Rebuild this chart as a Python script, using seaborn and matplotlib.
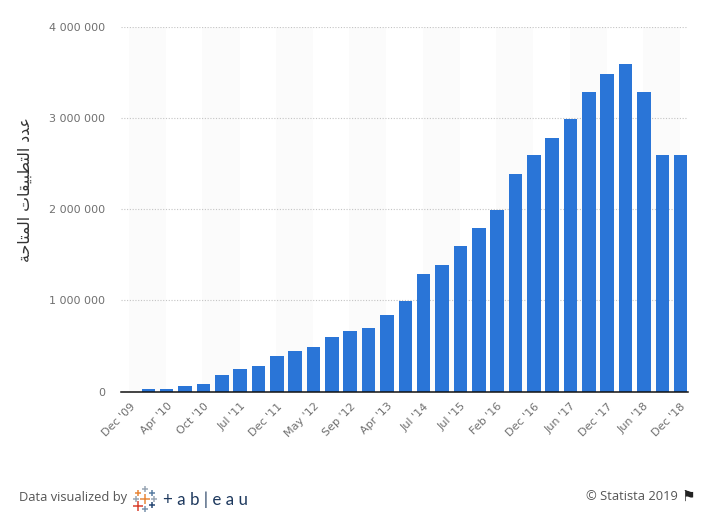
import matplotlib
matplotlib.use('Agg')
import matplotlib.pyplot as plt
import pandas as pd
import seaborn as sns

periods = ["Dec '09", "Mar '10", "Apr '10", "Jul '10", "Oct '10", "Jan '11", "Jul '11", "Oct '11",
           "Dec '11", "Mar '12", "May '12", "Jul '12", "Sep '12", "Jan '13", "Apr '13", "Sep '13",
           "Jul '14", "Jan '15", "Jul '15", "Oct '15", "Feb '16", "Jun '16", "Dec '16", "Mar '17",
           "Jun '17", "Sep '17", "Dec '17", "Mar '18", "Jun '18", "Sep '18", "Dec '18"]
apps = [0, 25000, 25000, 55000, 85000, 185000, 245000, 285000,
        385000, 440000, 485000, 595000, 660000, 695000, 835000, 990000,
        1285000, 1385000, 1595000, 1795000, 1985000, 2385000, 2590000, 2785000,
        2985000, 3280000, 3480000, 3590000, 3280000, 2590000, 2590000]
y_ticks = [0, 1000000, 2000000, 3000000, 4000000]
y_tick_labels = ['0', '1 000 000', '2 000 000', '3 000 000', '4 000 000']

# matplotlib does not shape arabic, so presentation forms in visual order
y_label = ('\ufecb\ufeaa\ufea9 '
           '\ufe8d\ufedf\ufe98\ufec4\ufe92\ufef4\ufed8\ufe8e\ufe95 '
           '\ufe8d\ufedf\ufee4\ufe98\ufe8e\ufea3\ufe94')[::-1]

W, H = 705, 514
left, right, top, bottom = 121, 688, 26.7, 391.5

sns.set_theme(style='white')
plt.rcParams['font.family'] = ['DejaVu Sans']

df = pd.DataFrame({'period': periods, 'apps': apps})

fig = plt.figure(figsize=(W / 100, H / 100), dpi=100)
ax = fig.add_axes([left / W, 1 - bottom / H, (right - left) / W, (bottom - top) / H])

sns.barplot(data=df, x='period', y='apps', color='#2a75d7', saturation=1, width=0.74, gap=0, ax=ax, zorder=3)
for bar in ax.patches:
    bar.set_linewidth(0)

ax.set_xlim(-0.49, 30.4)
ax.set_ylim(0, 4000000)

# shaded bands between every other labelled tick
for i in range(0, 30, 4):
    ax.axvspan(i - 0.05, i + 1.97, color='#fbfbfb', lw=0, zorder=0)

ax.set_yticks(y_ticks)
ax.set_yticklabels(y_tick_labels)
ax.set_xticks(range(0, len(periods), 2))
ax.set_xticklabels(periods[::2], rotation=45, ha='right', rotation_mode='anchor')
ax.tick_params(axis='x', length=0, pad=7, labelsize=8, labelcolor='#707070')
ax.tick_params(axis='y', length=0, pad=11.5, labelsize=8, labelcolor='#707070')
ax.grid(axis='y', color='#c4c4c4', linestyle=(0, (1, 1.5)), linewidth=0.8, zorder=1)
ax.set_axisbelow(True)

sns.despine(ax=ax, left=True)
ax.spines['bottom'].set_color('#111111')
ax.spines['bottom'].set_linewidth(1.1)
ax.spines['bottom'].set_zorder(5)

ax.set_xlabel('')
ax.set_ylabel(y_label, fontsize=11.3, color='#333333')
ax.yaxis.set_label_coords(-88 / (right - left), (bottom - 190) / (bottom - top))

# footer, in pixel coordinates
foot = fig.add_axes([0, 0, 1, 1], zorder=-1)
foot.set_xlim(0, W)
foot.set_ylim(H, 0)
foot.axis('off')
foot.text(19, 497, 'Data visualized by', family='Open Sans', fontsize=9.3, color='#555555', va='center')
foot.text(586, 496, '\u00a9 Statista 2019', family='Open Sans', fontsize=9.3, color='#555555', va='center')
foot.text(681, 496, '\u2691', family='DejaVu Sans', fontsize=11, color='#222222', va='center')

logo_x = [138.3, 145.3, 152, 136, 145.3, 154.3, 138.3, 145.3, 152]
logo_y = [492.7, 489.3, 492.7, 499.3, 499.3, 499.3, 506, 509, 505.3]
logo_c = ['#e8883a', '#9aa7b5', '#5b7fa3', '#9aa7b5', '#e8883a', '#9aa7b5', '#d8412f', '#7a93ad', '#2a4a75']
logo_s = [25, 13, 25, 13, 42, 13, 42, 13, 25]
for x, y, c, s in zip(logo_x, logo_y, logo_c, logo_s):
    foot.scatter(x, y, marker='+', s=s, color=c, linewidths=1.1)
foot.text(163, 499.5, '+ a b | e a u', family='Lato', fontsize=12.2, color='#1f3a5f', va='center')

fig.savefig('out.png', dpi=100)
